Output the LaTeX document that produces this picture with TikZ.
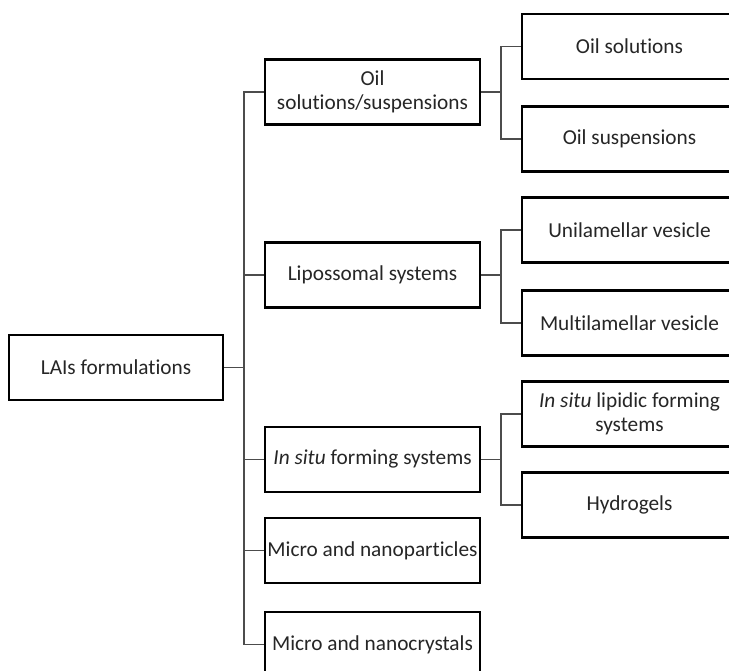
\documentclass[tikz,border=0pt]{standalone}
\usepackage{fontspec}
\setmainfont{Carlito}[RawFeature={-liga;-dlig;-clig}]
\begin{document}
\begin{tikzpicture}[x=1pt,y=-1pt,
  box/.style={draw=black,line width=2.8pt,minimum width=215pt,minimum height=65pt,
    inner sep=0pt,align=center,text=black!85,font=\fontsize{21.3}{23.5}\selectfont},
  link/.style={draw=black!70,line width=1.3pt}]
\clip (0,0) rectangle (729,671);
\fill[white] (0,0) rectangle (729,671);
% root
\node[box,minimum width=214pt] (root) at (116,367.5) {LAIs formulations};
% first level
\node[box] (oil)   at (372.5,92)    {Oil\\solutions/suspensions};
\node[box] (lipo)  at (372.5,275)   {Lipossomal systems};
\node[box] (situ)  at (372.5,459.5) {\textit{In situ} forming systems};
\node[box] (part)  at (372.5,550.5) {Micro and nanoparticles};
\node[box] (cryst) at (372.5,644.5) {Micro and nanocrystals};
% second level
\node[box] (osol)  at (629.5,46.5)  {Oil solutions};
\node[box] (osus)  at (629.5,139)   {Oil suspensions};
\node[box] (uni)   at (629.5,230)   {Unilamellar vesicle};
\node[box] (multi) at (629.5,323)   {Multilamellar vesicle};
\node[box] (lipid) at (629.5,414)   {\textit{In situ} lipidic forming\\systems};
\node[box] (hydro) at (629.5,505)   {Hydrogels};
% junction points
\coordinate (j0) at (244,367.5);
\coordinate (j1) at (501,92);
\coordinate (j2) at (501,275);
\coordinate (j3) at (501,459.5);
% trunk from the root
\draw[link] (root.east) -- (j0);
\draw[link] (oil.west) -| (j0) |- (cryst.west);
\draw[link] (lipo.west) -- (lipo.west -| j0);
\draw[link] (situ.west) -- (situ.west -| j0);
\draw[link] (part.west) -- (part.west -| j0);
% branches
\draw[link] (oil.east) -- (j1);
\draw[link] (osol.west) -| (j1) |- (osus.west);
\draw[link] (lipo.east) -- (j2);
\draw[link] (uni.west) -| (j2) |- (multi.west);
\draw[link] (situ.east) -- (j3);
\draw[link] (lipid.west) -| (j3) |- (hydro.west);
\end{tikzpicture}
\end{document}
